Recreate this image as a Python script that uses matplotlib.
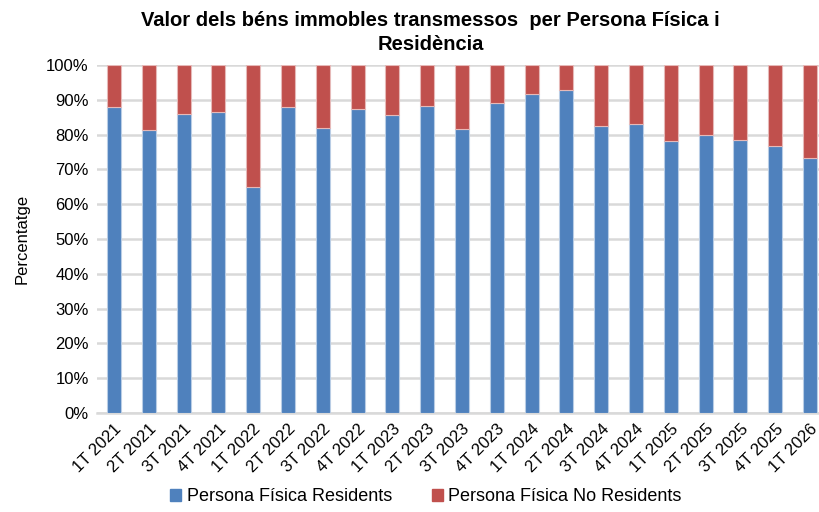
import matplotlib.pyplot as plt
import numpy as np
from matplotlib.patches import Patch

periods = ["1T 2021", "2T 2021", "3T 2021", "4T 2021", "1T 2022", "2T 2022", "3T 2022",
           "4T 2022", "1T 2023", "2T 2023", "3T 2023", "4T 2023", "1T 2024", "2T 2024",
           "3T 2024", "4T 2024", "1T 2025", "2T 2025", "3T 2025", "4T 2025", "1T 2026"]
residents = [87.9, 81.2, 86.0, 86.6, 65.0, 87.8, 82.0, 87.3, 85.6, 88.3, 81.6,
             89.2, 91.8, 92.8, 82.5, 83.0, 78.1, 79.9, 78.5, 76.8, 73.3]
no_residents = [100 - v for v in residents]

blue = "#4F81BD"
red = "#C0504D"

plt.rcParams['font.family'] = ['Liberation Sans', 'DejaVu Sans']

fig = plt.figure(figsize=(8.19, 5.12), dpi=100)
ax = fig.add_axes([97/819, 1 - 413/512, (819 - 97)/819, (413 - 65)/512])

x = np.arange(len(periods))
ax.bar(x, residents, width=0.4, color=blue, edgecolor="#B9CDE5", linewidth=0.8, zorder=3)
ax.bar(x, no_residents, width=0.4, bottom=residents, color=red, edgecolor="#E6B9B8", linewidth=0.8, zorder=3)

ax.set_xlim(-0.49, 20.26)
ax.set_ylim(0, 100)
ax.set_yticks(np.arange(0, 101, 10))
ax.set_yticklabels([f"{v}%" for v in range(0, 101, 10)], fontsize=12)
ax.set_xticks(x)
ax.set_xticklabels(periods, rotation=45, ha="right", rotation_mode="anchor", fontsize=12)
ax.tick_params(axis="both", length=0, pad=6)
ax.grid(axis="y", color="#D9D9D9", linewidth=1.8, zorder=0)
for s in ["top", "right", "left"]:
    ax.spines[s].set_visible(False)
ax.spines["bottom"].set_color("#D9D9D9")
ax.spines["bottom"].set_linewidth(1.8)

ax.set_ylabel("Percentatge", fontsize=12, labelpad=12)

fig.text(0.526, 0.978, "Valor dels béns immobles transmessos  per Persona Física i\nResidència",
         ha="center", va="top", fontsize=14.5, fontweight="bold", linespacing=1.3)

handles = [Patch(color=blue, label="Persona Física Residents"),
           Patch(color=red, label="Persona Física No Residents")]
fig.legend(handles=handles, loc="center", bbox_to_anchor=(0.52, 0.03), ncol=2, frameon=False,
           fontsize=13, handlelength=0.6, handleheight=0.6, handletextpad=0.3, columnspacing=2.2)

fig.savefig("out.png", dpi=100)
